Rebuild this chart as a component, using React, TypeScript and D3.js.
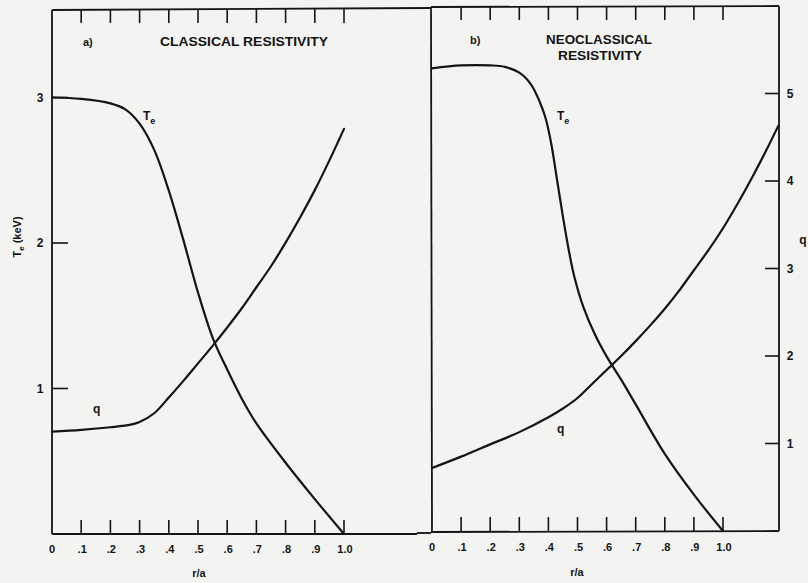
import React, { useEffect } from "react";
import * as d3 from "d3";

// Panel (a): classical resistivity
const rA_Te = [0, 0.1, 0.2, 0.25, 0.3, 0.35, 0.4, 0.45, 0.5, 0.55, 0.6, 0.65, 0.7, 0.8, 0.9, 1.0];
const teA = [3.0, 2.99, 2.96, 2.92, 2.82, 2.64, 2.36, 2.02, 1.66, 1.35, 1.13, 0.93, 0.76, 0.49, 0.24, 0.0];
const rA_q = [0, 0.1, 0.2, 0.27, 0.3, 0.35, 0.4, 0.45, 0.5, 0.55, 0.6, 0.65, 0.7, 0.75, 0.8, 0.85, 0.9, 0.95, 1.0];
const qA = [1.17, 1.19, 1.22, 1.25, 1.28, 1.38, 1.56, 1.75, 1.95, 2.15, 2.36, 2.58, 2.82, 3.06, 3.33, 3.62, 3.93, 4.27, 4.63];

// Panel (b): neoclassical resistivity
const rB_Te = [0, 0.1, 0.2, 0.25, 0.3, 0.34, 0.37, 0.39, 0.41, 0.43, 0.45, 0.47, 0.49, 0.52, 0.56, 0.6, 0.65, 0.7, 0.8, 0.9, 1.0];
const teB = [3.18, 3.2, 3.2, 3.19, 3.15, 3.07, 2.95, 2.84, 2.66, 2.41, 2.16, 1.93, 1.74, 1.54, 1.35, 1.2, 1.04, 0.87, 0.53, 0.25, 0.0];
const rB_q = [0, 0.1, 0.2, 0.3, 0.4, 0.45, 0.5, 0.55, 0.6, 0.65, 0.7, 0.75, 0.8, 0.85, 0.9, 0.95, 1.0, 1.05, 1.1, 1.15, 1.19];
const qB = [0.72, 0.85, 0.99, 1.13, 1.3, 1.4, 1.52, 1.68, 1.84, 2.0, 2.17, 2.35, 2.54, 2.75, 2.98, 3.21, 3.46, 3.74, 4.04, 4.36, 4.63];

const rTicks = [0, 0.1, 0.2, 0.3, 0.4, 0.5, 0.6, 0.7, 0.8, 0.9, 1.0];
const rTickLabels = ["0", ".1", ".2", ".3", ".4", ".5", ".6", ".7", ".8", ".9", "1.0"];
const teTicks = [1, 2, 3];
const qTicks = [1, 2, 3, 4, 5];

const W = 808;
const H = 583;
const INK = "#141414";
const PAPER = "#f3f3f1";
const FONT = "'Liberation Sans', Arial, Helvetica, sans-serif";

// frame geometry of the two panels
const A = { left: 52, r1: 344, right: 431, top: 10, bottom: 534 };
const B = { left: 431, r0: 432, r1: 723, right: 779, top: 7, bottom: 531 };

export default function App() {
  useEffect(() => {
    document.body.style.margin = "0";
    document.body.style.background = PAPER;
  }, []);

  const xA = d3.scaleLinear().domain([0, 1]).range([A.left, A.r1]);
  const xB = d3.scaleLinear().domain([0, 1]).range([B.r0, B.r1]);
  const teA_y = d3.scaleLinear().domain([0, 1]).range([A.bottom, A.bottom - 145.5]);
  const teB_y = d3.scaleLinear().domain([0, 1]).range([B.bottom, B.bottom - 145.5]);
  const qA_y = d3.scaleLinear().domain([0, 1]).range([A.bottom, A.bottom - 87.5]);
  const qB_y = d3.scaleLinear().domain([0, 1]).range([B.bottom, B.bottom - 87.5]);

  const mk = (xs: number[], ys: number[], x: d3.ScaleLinear<number, number>, y: d3.ScaleLinear<number, number>) =>
    d3
      .line<number>()
      .x((_, i) => x(xs[i]))
      .y((v) => y(v))
      .curve(d3.curveCatmullRom.alpha(0.5))(ys) as string;

  const curves = [
    mk(rA_Te, teA, xA, teA_y),
    mk(rA_q, qA, xA, qA_y),
    mk(rB_Te, teB, xB, teB_y),
    mk(rB_q, qB, xB, qB_y),
  ];

  const tickLen = 14;
  const bold = { fontFamily: FONT, fontWeight: 700, fill: INK } as const;

  return (
    <svg width={W} height={H} style={{ position: "absolute", left: 0, top: 0, display: "block" }}>
      <rect x={0} y={0} width={W} height={H} fill={PAPER} />

      {/* frames */}
      <g stroke={INK} strokeWidth={1.8} fill="none">
        <line x1={A.left} y1={A.top} x2={A.left} y2={A.bottom} />
        <line x1={A.left} y1={A.top} x2={A.right} y2={A.top - 2} />
        <line x1={A.left} y1={A.bottom} x2={A.right - 14} y2={A.bottom} />
        <line x1={A.right - 14} y1={A.bottom - 1} x2={A.right} y2={A.bottom - 1} />
        <line x1={B.left} y1={B.top} x2={B.left + 1} y2={B.bottom + 2} />
        <line x1={B.left} y1={B.top} x2={B.right} y2={B.top - 1} />
        <line x1={B.left} y1={B.bottom + 1} x2={B.right} y2={B.bottom} />
        <line x1={B.right} y1={B.top - 1} x2={B.right} y2={B.bottom} />
      </g>

      {/* r/a ticks, top and bottom */}
      <g stroke={INK} strokeWidth={1.6}>
        {rTicks.slice(1).map((t) => (
          <g key={"a" + t}>
            <line x1={xA(t)} x2={xA(t)} y1={A.bottom} y2={A.bottom - tickLen} />
            <line x1={xA(t)} x2={xA(t)} y1={A.top - 1} y2={A.top - 1 + tickLen} />
          </g>
        ))}
        {rTicks.slice(1).map((t) => (
          <g key={"b" + t}>
            <line x1={xB(t)} x2={xB(t)} y1={B.bottom} y2={B.bottom - tickLen} />
            <line x1={xB(t)} x2={xB(t)} y1={B.top - 1} y2={B.top - 1 + tickLen} />
          </g>
        ))}
        {teTicks.map((t) => (
          <line key={"te" + t} x1={A.left} x2={A.left + 16} y1={teA_y(t)} y2={teA_y(t)} />
        ))}
        {qTicks.map((t) => (
          <line key={"q" + t} x1={B.right - 14} x2={B.right} y1={qB_y(t)} y2={qB_y(t)} />
        ))}
      </g>

      {/* tick labels */}
      <g {...bold} fontSize={11} textAnchor="middle">
        {rTicks.map((t, i) => (
          <text key={"la" + t} x={xA(t) + (i === 0 ? 0 : 1)} y={553}>
            {rTickLabels[i]}
          </text>
        ))}
        {rTicks.map((t, i) => (
          <text key={"lb" + t} x={xB(t) + (i === 0 ? 0 : 1)} y={551}>
            {rTickLabels[i]}
          </text>
        ))}
      </g>
      <g {...bold} fontSize={12} textAnchor="middle">
        {teTicks.map((t) => (
          <text key={"tl" + t} x={40} y={teA_y(t) + 4}>
            {t}
          </text>
        ))}
        {qTicks.map((t) => (
          <text key={"ql" + t} x={790} y={qB_y(t) + 4}>
            {t}
          </text>
        ))}
      </g>

      {/* axis titles */}
      <g {...bold} fontSize={11} textAnchor="middle">
        <text x={199} y={577}>r/a</text>
        <text x={577} y={576}>r/a</text>
        <text x={803} y={244} fontSize={12}>q</text>
        <text transform="translate(21,237) rotate(-90)">
          T<tspan fontSize={8} dy={3}>e</tspan>
          <tspan dy={-3}> (keV)</tspan>
        </text>
      </g>

      {/* panel headings */}
      <g {...bold} fontSize={12}>
        <text x={83} y={46} fontSize={11}>a)</text>
        <text x={160} y={46} textLength={168} lengthAdjust="spacingAndGlyphs">CLASSICAL RESISTIVITY</text>
        <text x={470} y={44} fontSize={11}>b)</text>
        <text x={599} y={44} textAnchor="middle" textLength={106} lengthAdjust="spacingAndGlyphs">NEOCLASSICAL</text>
        <text x={600} y={60} textAnchor="middle" textLength={84} lengthAdjust="spacingAndGlyphs">RESISTIVITY</text>
      </g>

      {/* curves */}
      <g stroke={INK} strokeWidth={2.2} fill="none" strokeLinejoin="round" strokeLinecap="round">
        {curves.map((d, i) => (
          <path key={i} d={d} />
        ))}
      </g>

      {/* curve labels */}
      <g {...bold} fontSize={12}>
        <text x={143} y={120}>
          T<tspan fontSize={9} dy={4}>e</tspan>
        </text>
        <text x={557} y={120}>
          T<tspan fontSize={9} dy={4}>e</tspan>
        </text>
        <text x={93} y={413}>q</text>
        <text x={557} y={433}>q</text>
      </g>
    </svg>
  );
}
